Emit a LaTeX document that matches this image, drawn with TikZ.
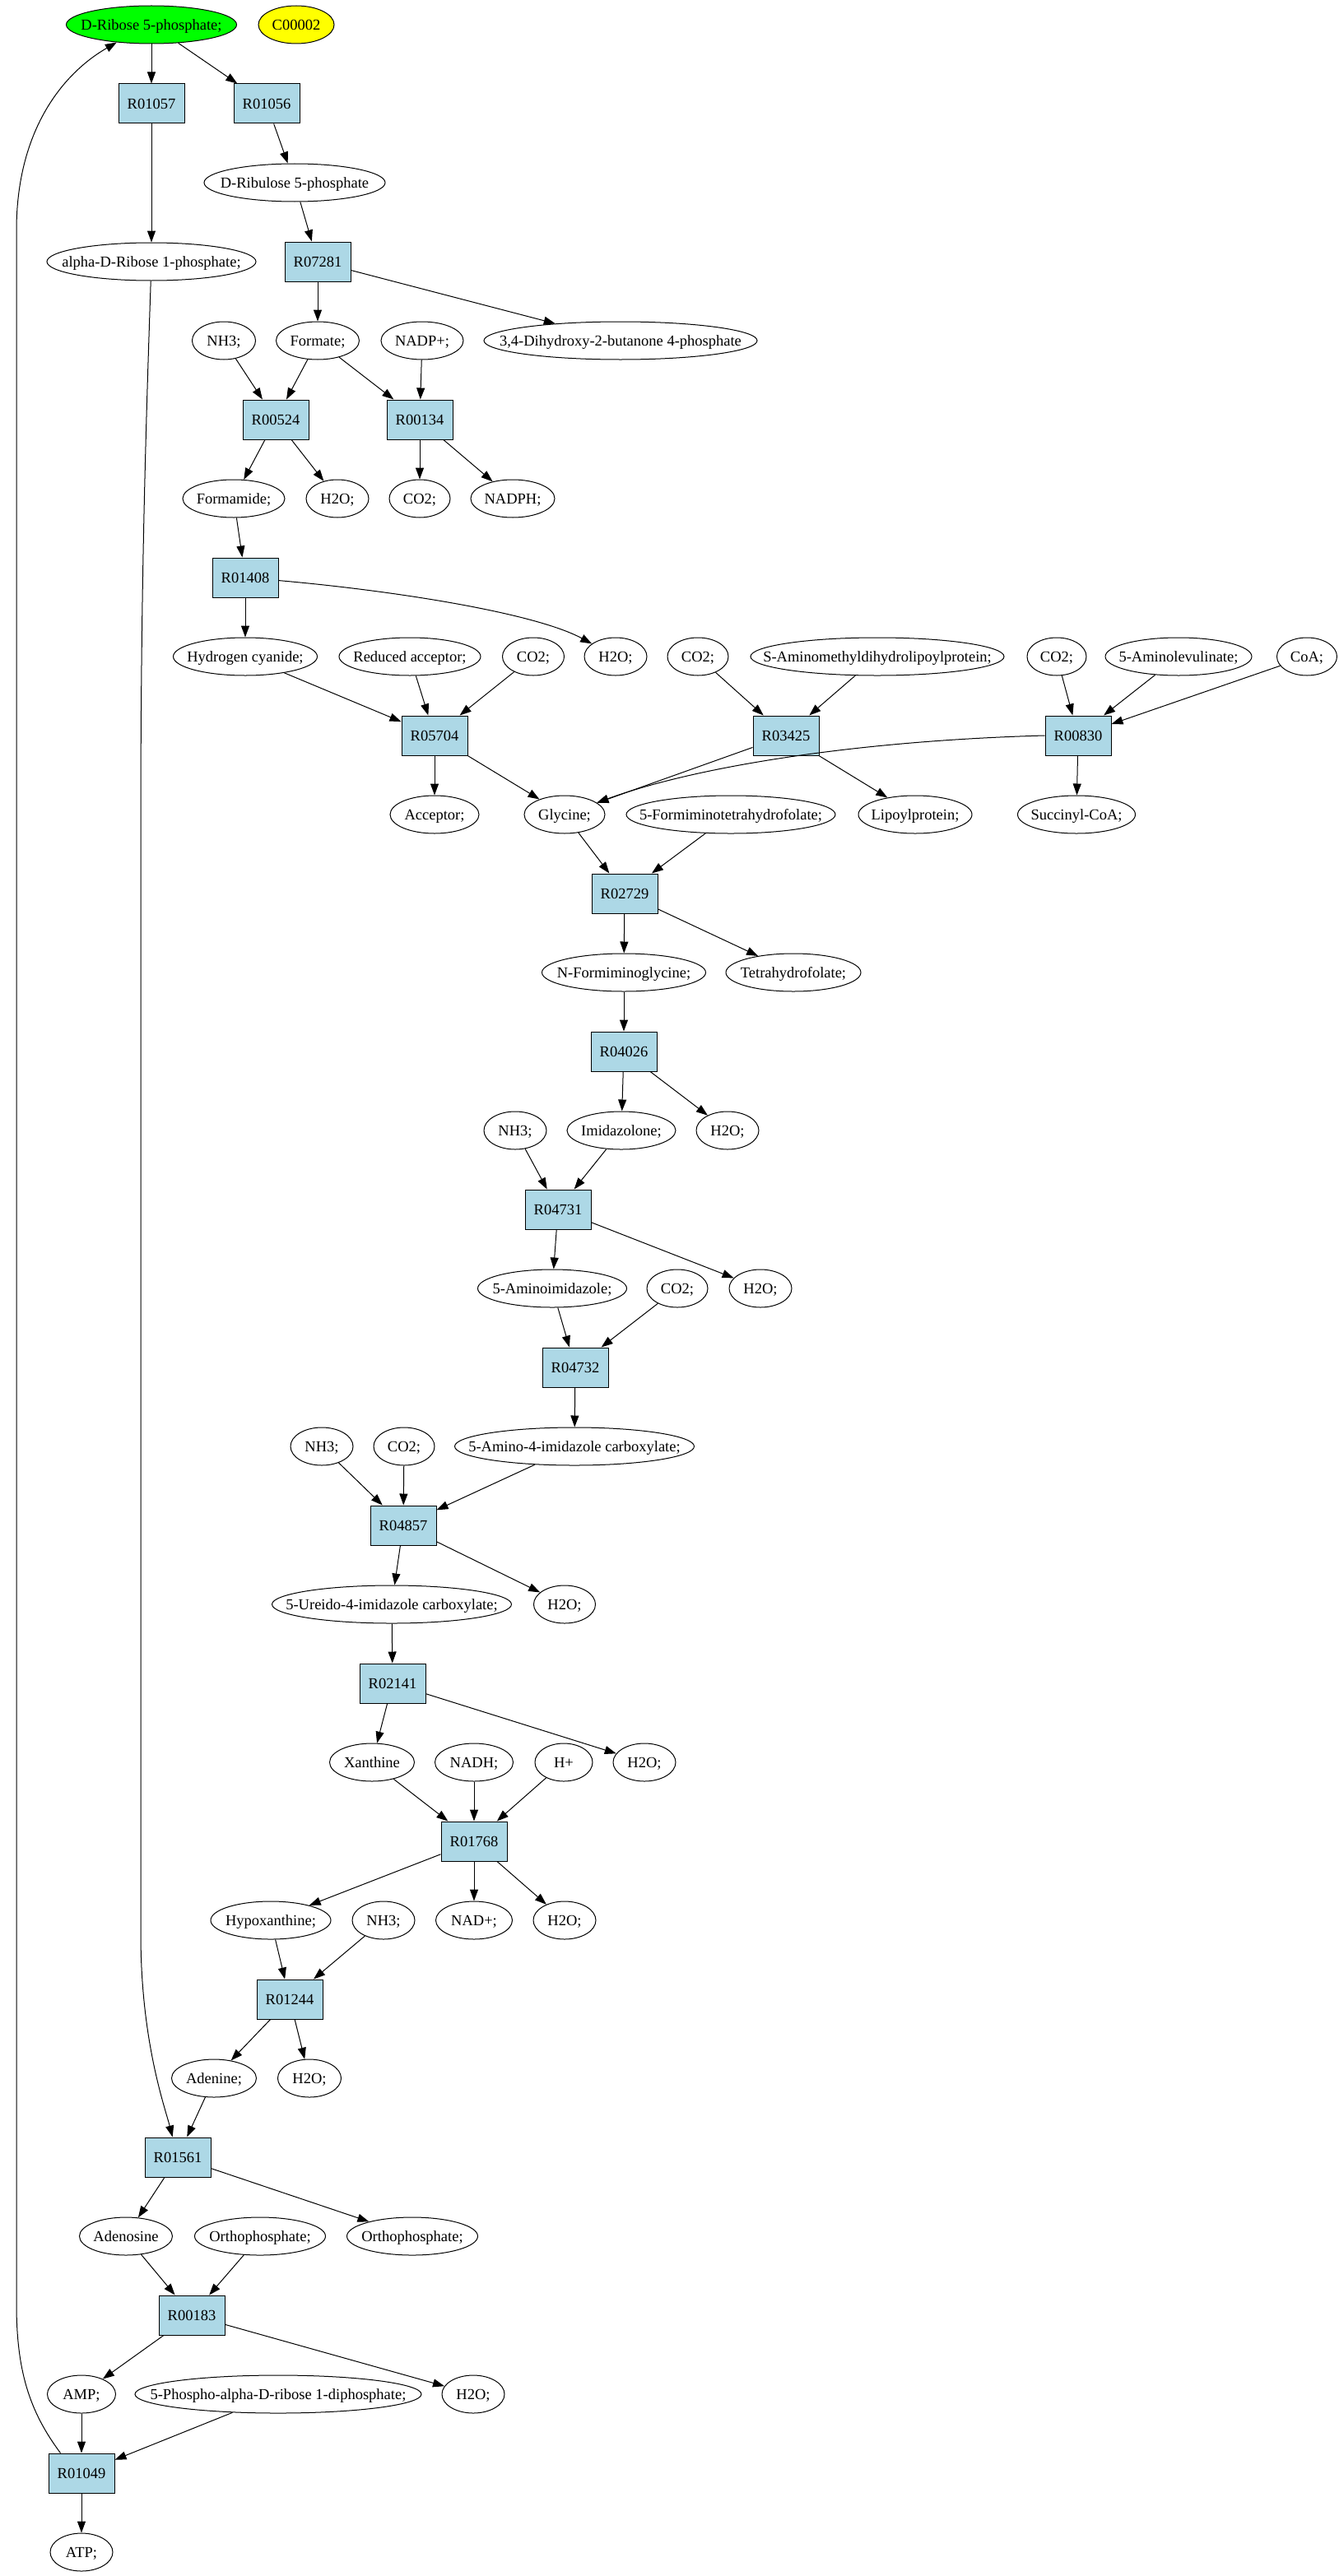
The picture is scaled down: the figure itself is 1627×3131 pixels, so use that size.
\documentclass[tikz,border=0pt]{standalone}
\usepackage{fontspec}
\setmainfont{Liberation Serif}
\usetikzlibrary{arrows.meta,shapes.geometric}
\definecolor{rxnblue}{HTML}{ADD8E6}
\definecolor{dgreen}{HTML}{00FF00}
\definecolor{dyellow}{HTML}{FFFF00}
\newcommand\zb[1]{\makebox[0pt]{#1}}
\tikzset{
  base/.style={draw=black, line width=1pt, inner sep=0pt, font=\fontsize{18.5}{22}\selectfont, text height=12.2pt, text depth=0pt},
  met/.style={base, ellipse, minimum height=46pt},
  rxn/.style={base, rectangle, fill=rxnblue, minimum width=80pt, minimum height=48pt},
  edge/.style={-{Triangle[length=14pt,width=10pt]}, line width=1pt},
}
\begin{document}
\begin{tikzpicture}[x=1pt,y=-1pt]
\fill[white] (0,0) rectangle (1627,3131);
\useasboundingbox (0,0) rectangle (1627,3131);
% rank 0
\node[met, minimum width=207pt, fill=dgreen] (dr5p) at (184,30) {\zb{D-Ribose 5-phosphate;}};
\node[met, minimum width=92pt, fill=dyellow] (c2) at (360,30) {\zb{C00002}};
% rank 1
\node[rxn] (r01057) at (184,126) {R01057};
\node[rxn] (r01056) at (324,126) {R01056};
% rank 2
\node[met, minimum width=220pt] (drl5p) at (358,222) {\zb{D-Ribulose 5-phosphate}};
% rank 3
\node[met, minimum width=254pt] (adr1p) at (184,318) {\zb{alpha-D-Ribose 1-phosphate;}};
\node[rxn] (r07281) at (386,318) {R07281};
% rank 4
\node[met, minimum width=77pt] (nh3a) at (272,414) {\zb{NH3;}};
\node[met, minimum width=101pt] (formate) at (386,414) {\zb{Formate;}};
\node[met, minimum width=100pt] (nadpp) at (513,414) {\zb{NADP+;}};
\node[met, minimum width=332pt] (dhb) at (754,414) {\zb{3,4-Dihydroxy-2-butanone 4-phosphate}};
% rank 5
\node[rxn] (r00524) at (335,510) {R00524};
\node[rxn] (r00134) at (510,510) {R00134};
% rank 6
\node[met, minimum width=124pt] (formamide) at (284,606) {\zb{Formamide;}};
\node[met, minimum width=76pt] (h2oa) at (410,606) {\zb{H2O;}};
\node[met, minimum width=74pt] (co2a) at (510,606) {\zb{CO2;}};
\node[met, minimum width=102pt] (nadph) at (623,606) {\zb{NADPH;}};
% rank 7
\node[rxn] (r01408) at (298,702) {R01408};
% rank 8
\node[met, minimum width=175pt] (hcn) at (298,798) {\zb{Hydrogen cyanide;}};
\node[met, minimum width=172pt] (redacc) at (498,798) {\zb{Reduced acceptor;}};
\node[met, minimum width=75pt] (co2b) at (648,798) {\zb{CO2;}};
\node[met, minimum width=76pt] (h2ob) at (748,798) {\zb{H2O;}};
\node[met, minimum width=74pt] (co2c) at (848,798) {\zb{CO2;}};
\node[met, minimum width=308pt] (sam) at (1066,798) {\zb{S-Aminomethyldihydrolipoylprotein;}};
\node[met, minimum width=72pt] (co2d) at (1284,798) {\zb{CO2;}};
\node[met, minimum width=178pt] (ala) at (1432,798) {\zb{5-Aminolevulinate;}};
\node[met, minimum width=73pt] (coa) at (1588,798) {\zb{CoA;}};
% rank 9
\node[rxn] (r05704) at (528,894) {R05704};
\node[rxn] (r03425) at (955,894) {R03425};
\node[rxn] (r00830) at (1310,894) {R00830};
% rank 10
\node[met, minimum width=108pt] (acc) at (528,990) {\zb{Acceptor;}};
\node[met, minimum width=98pt] (gly) at (686,990) {\zb{Glycine;}};
\node[met, minimum width=254pt] (fthf) at (888,990) {\zb{5-Formiminotetrahydrofolate;}};
\node[met, minimum width=138pt] (lipo) at (1112,990) {\zb{Lipoylprotein;}};
\node[met, minimum width=143pt] (succ) at (1308,990) {\zb{Succinyl-CoA;}};
% rank 11
\node[rxn] (r02729) at (759,1086) {R02729};
% rank 12
\node[met, minimum width=199pt] (nfg) at (758,1182) {\zb{N-Formiminoglycine;}};
\node[met, minimum width=164pt] (thf) at (964,1182) {\zb{Tetrahydrofolate;}};
% rank 13
\node[rxn] (r04026) at (758,1278) {R04026};
% rank 14
\node[met, minimum width=76pt] (nh3b) at (626,1374) {\zb{NH3;}};
\node[met, minimum width=132pt] (imz) at (755,1374) {\zb{Imidazolone;}};
\node[met, minimum width=76pt] (h2oc) at (884,1374) {\zb{H2O;}};
% rank 15
\node[rxn] (r04731) at (678,1470) {R04731};
% rank 16
\node[met, minimum width=181pt] (aimz) at (671,1566) {\zb{5-Aminoimidazole;}};
\node[met, minimum width=74pt] (co2e) at (823,1566) {\zb{CO2;}};
\node[met, minimum width=76pt] (h2od) at (924,1566) {\zb{H2O;}};
% rank 17
\node[rxn] (r04732) at (699,1662) {R04732};
% rank 18
\node[met, minimum width=76pt] (nh3c) at (391,1758) {\zb{NH3;}};
\node[met, minimum width=74pt] (co2f) at (491,1758) {\zb{CO2;}};
\node[met, minimum width=291pt] (aic) at (698,1758) {\zb{5-Amino-4-imidazole carboxylate;}};
% rank 19
\node[rxn] (r04857) at (490,1854) {R04857};
% rank 20
\node[met, minimum width=291pt] (uic) at (476,1950) {\zb{5-Ureido-4-imidazole carboxylate;}};
\node[met, minimum width=75pt] (h2oe) at (686,1950) {\zb{H2O;}};
% rank 21
\node[rxn] (r02141) at (477,2046) {R02141};
% rank 22
\node[met, minimum width=103pt] (xan) at (452,2142) {\zb{Xanthine}};
\node[met, minimum width=95pt] (nadh) at (576,2142) {\zb{NADH;}};
\node[met, minimum width=70pt] (hp) at (685,2142) {\zb{H+}};
\node[met, minimum width=76pt] (h2of) at (783,2142) {\zb{H2O;}};
% rank 23
\node[rxn] (r01768) at (576,2238) {R01768};
% rank 24
\node[met, minimum width=146pt] (hyp) at (329,2334) {\zb{Hypoxanthine;}};
\node[met, minimum width=76pt] (nh3d) at (466,2334) {\zb{NH3;}};
\node[met, minimum width=93pt] (nadp) at (576,2334) {\zb{NAD+;}};
\node[met, minimum width=76pt] (h2og) at (686,2334) {\zb{H2O;}};
% rank 25
\node[rxn] (r01244) at (352,2430) {R01244};
% rank 26
\node[met, minimum width=103pt] (ade) at (260,2526) {\zb{Adenine;}};
\node[met, minimum width=77pt] (h2oh) at (376,2526) {\zb{H2O;}};
% rank 27
\node[rxn] (r01561) at (216,2622) {R01561};
% rank 28
\node[met, minimum width=113pt] (ado) at (153,2718) {\zb{Adenosine}};
\node[met, minimum width=159pt] (pia) at (316,2718) {\zb{Orthophosphate;}};
\node[met, minimum width=159pt] (pib) at (501,2718) {\zb{Orthophosphate;}};
% rank 29
\node[rxn] (r00183) at (233,2814) {R00183};
% rank 30
\node[met, minimum width=83pt] (amp) at (99,2910) {\zb{AMP;}};
\node[met, minimum width=348pt] (prpp) at (338,2910) {\zb{5-Phospho-alpha-D-ribose 1-diphosphate;}};
\node[met, minimum width=76pt] (h2oi) at (575,2910) {\zb{H2O;}};
% rank 31
\node[rxn] (r01049) at (99,3006) {R01049};
% rank 32
\node[met, minimum width=76pt] (atp) at (99,3102) {\zb{ATP;}};

% edges
\draw[edge] (dr5p) -- (r01057);
\draw[edge] (dr5p) -- (r01056);
\draw[edge] (r01057) -- (adr1p);
\draw[edge] (r01056) -- (drl5p);
\draw[edge] (drl5p) -- (r07281);
\draw[edge] (r07281) -- (formate);
\draw[edge] (r07281) -- (dhb);
\draw[edge] (nh3a) -- (r00524);
\draw[edge] (formate) -- (r00524);
\draw[edge] (formate) -- (r00134);
\draw[edge] (nadpp) -- (r00134);
\draw[edge] (r00524) -- (formamide);
\draw[edge] (r00524) -- (h2oa);
\draw[edge] (r00134) -- (co2a);
\draw[edge] (r00134) -- (nadph);
\draw[edge] (formamide) -- (r01408);
\draw[edge] (r01408) -- (hcn);
\draw[edge] (r01408) .. controls (480,718) and (650,745) .. (h2ob);
\draw[edge] (hcn) -- (r05704);
\draw[edge] (redacc) -- (r05704);
\draw[edge] (co2b) -- (r05704);
\draw[edge] (co2c) -- (r03425);
\draw[edge] (sam) -- (r03425);
\draw[edge] (co2d) -- (r00830);
\draw[edge] (ala) -- (r00830);
\draw[edge] (coa) -- (r00830);
\draw[edge] (r05704) -- (acc);
\draw[edge] (r05704) -- (gly);
\draw[edge] (r03425) -- (gly);
\draw[edge] (r03425) -- (lipo);
\draw[edge] (r00830.west) .. controls (1050,900) and (850,930) .. (gly);
\draw[edge] (r00830) -- (succ);
\draw[edge] (gly) -- (r02729);
\draw[edge] (fthf) -- (r02729);
\draw[edge] (r02729) -- (nfg);
\draw[edge] (r02729) -- (thf);
\draw[edge] (nfg) -- (r04026);
\draw[edge] (r04026) -- (imz);
\draw[edge] (r04026) -- (h2oc);
\draw[edge] (nh3b) -- (r04731);
\draw[edge] (imz) -- (r04731);
\draw[edge] (r04731) -- (aimz);
\draw[edge] (r04731) -- (h2od);
\draw[edge] (aimz) -- (r04732);
\draw[edge] (co2e) -- (r04732);
\draw[edge] (r04732) -- (aic);
\draw[edge] (nh3c) -- (r04857);
\draw[edge] (co2f) -- (r04857);
\draw[edge] (aic) -- (r04857);
\draw[edge] (r04857) -- (uic);
\draw[edge] (r04857) -- (h2oe);
\draw[edge] (uic) -- (r02141);
\draw[edge] (r02141) -- (xan);
\draw[edge] (r02141) -- (h2of);
\draw[edge] (xan) -- (r01768);
\draw[edge] (nadh) -- (r01768);
\draw[edge] (hp) -- (r01768);
\draw[edge] (r01768) -- (hyp);
\draw[edge] (r01768) -- (nadp);
\draw[edge] (r01768) -- (h2og);
\draw[edge] (hyp) -- (r01244);
\draw[edge] (nh3d) -- (r01244);
\draw[edge] (r01244) -- (ade);
\draw[edge] (r01244) -- (h2oh);
\draw[edge] (adr1p) .. controls (178,500) and (171,700) .. (171,1000) -- (171,2350) .. controls (171,2480) and (200,2560) .. (r01561);
\draw[edge] (ade) -- (r01561);
\draw[edge] (r01561) -- (ado);
\draw[edge] (r01561) -- (pib);
\draw[edge] (ado) -- (r00183);
\draw[edge] (pia) -- (r00183);
\draw[edge] (r00183) -- (amp);
\draw[edge] (r00183) -- (h2oi);
\draw[edge] (amp) -- (r01049);
\draw[edge] (prpp) -- (r01049);
\draw[edge] (r01049) -- (atp);
\draw[edge] ([xshift=15pt]r01049.north west) .. controls (35,2930) and (20,2880) .. (20,2800) -- (20,280) .. controls (20,160) and (75,90) .. (dr5p.207);
\end{tikzpicture}
\end{document}
